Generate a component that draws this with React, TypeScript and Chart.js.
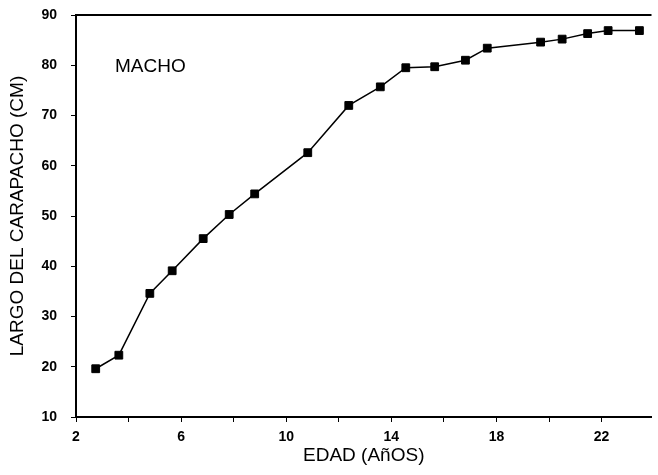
import React, { useEffect, useRef } from "react";
import { Chart, registerables } from "chart.js";

Chart.register(...registerables);

const ages = [2.75, 3.63, 4.81, 5.66, 6.84, 7.83, 8.8, 10.82, 12.38, 13.58, 14.55, 15.65, 16.82, 17.65, 19.68, 20.5, 21.47, 22.25, 23.44];
const lengths = [19.6, 22.3, 34.6, 39.1, 45.5, 50.3, 54.4, 62.6, 72.0, 75.7, 79.5, 79.7, 81.0, 83.4, 84.6, 85.2, 86.3, 86.9, 86.9];
const xTickValues = [2, 4, 6, 8, 10, 12, 14, 16, 18, 20, 22];
const xLabelValues = [2, 6, 10, 14, 18, 22];
const yTickValues = [10, 20, 30, 40, 50, 60, 70, 80, 90];
const xTitle = "EDAD (AñOS)";
const yTitle = "LARGO DEL CARAPACHO (CM)";
const panelLabel = "MACHO";

const FONT = "'Liberation Sans', Arial, Helvetica, sans-serif";

export default function App() {
  const ref = useRef<HTMLCanvasElement | null>(null);

  useEffect(() => {
    if (!ref.current) return;
    const frame = {
      id: "frame",
      afterDraw(chart: any) {
        const { ctx, chartArea } = chart;
        ctx.save();
        ctx.strokeStyle = "#000";
        ctx.lineWidth = 2;
        ctx.beginPath();
        ctx.moveTo(chartArea.left - 1, chartArea.top);
        ctx.lineTo(chartArea.right, chartArea.top);
        ctx.stroke();
        ctx.fillStyle = "#000";
        ctx.font = `19px ${FONT}`;
        ctx.textAlign = "left";
        ctx.textBaseline = "alphabetic";
        ctx.fillText(panelLabel, 115, 72);
        ctx.restore();
      },
    };
    const chart = new Chart(ref.current, {
      type: "line",
      data: {
        datasets: [
          {
            data: ages.map((a, i) => ({ x: a, y: lengths[i] })),
            borderColor: "#000",
            backgroundColor: "#000",
            borderWidth: 1.5,
            pointStyle: "rect",
            pointRadius: 5.5,
            pointBorderWidth: 1,
            pointBackgroundColor: "#000",
            pointBorderColor: "#000",
            tension: 0,
          },
        ],
      },
      options: {
        animation: false,
        responsive: false,
        layout: { padding: { top: 15, right: 0, left: 0, bottom: 0 } },
        plugins: { legend: { display: false }, tooltip: { enabled: false } },
        scales: {
          x: {
            type: "linear",
            min: 2,
            max: 23.9,
            afterFit(scale: any) {
              scale.height = 58;
              scale.paddingLeft = 0;
              scale.paddingRight = 0;
            },
            afterBuildTicks(scale: any) {
              scale.ticks = xTickValues.map((v) => ({ value: v }));
            },
            border: { display: true, color: "#000", width: 2 },
            grid: { drawOnChartArea: false, drawTicks: true, tickLength: 5, color: "#000", lineWidth: 1 },
            ticks: {
              color: "#000",
              padding: 7,
              autoSkip: false,
              maxRotation: 0,
              font: { family: FONT, size: 14, weight: "bold" },
              callback: (v: any) => (xLabelValues.includes(Number(v)) ? String(v) : ""),
            },
            title: {
              display: true,
              text: xTitle,
              color: "#000",
              font: { family: FONT, size: 19 },
              padding: { top: 0, bottom: 8 },
            },
          },
          y: {
            type: "linear",
            min: 10,
            max: 90,
            afterFit(scale: any) {
              scale.width = 76;
              scale.paddingTop = 0;
              scale.paddingBottom = 0;
            },
            afterBuildTicks(scale: any) {
              scale.ticks = yTickValues.map((v) => ({ value: v }));
            },
            border: { display: true, color: "#000", width: 2 },
            grid: { drawOnChartArea: false, drawTicks: true, tickLength: 5, color: "#000", lineWidth: 1 },
            ticks: {
              color: "#000",
              padding: 14,
              font: { family: FONT, size: 14, weight: "bold" },
            },
            title: {
              display: true,
              text: yTitle,
              color: "#000",
              font: { family: FONT, size: 19 },
              padding: { top: 6, bottom: 0 },
            },
          },
        },
      },
      plugins: [frame],
    });
    return () => chart.destroy();
  }, []);

  return (
    <div style={{ position: "absolute", left: 0, top: 0, width: 658, height: 475, background: "#fff" }}>
      <canvas ref={ref} width={658} height={475} style={{ display: "block" }} />
    </div>
  );
}
